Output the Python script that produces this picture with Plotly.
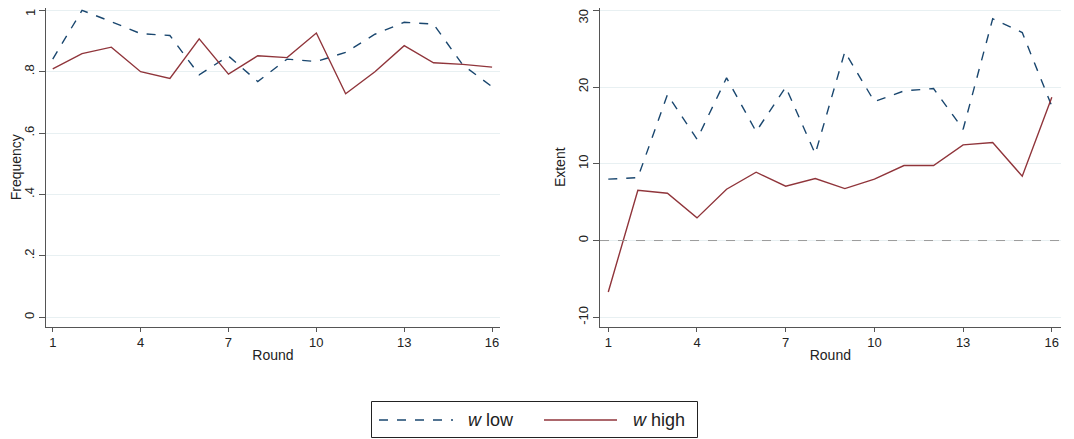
import plotly.graph_objects as go

rounds = list(range(1, 17))
freq_low = [0.841, 1.0, 0.963, 0.924, 0.918, 0.790, 0.851, 0.768, 0.841, 0.833, 0.863, 0.922, 0.961, 0.955, 0.822, 0.751]
freq_high = [0.809, 0.859, 0.880, 0.800, 0.778, 0.907, 0.792, 0.852, 0.846, 0.926, 0.728, 0.800, 0.885, 0.829, 0.824, 0.815]
ext_low = [8.0, 8.2, 19.0, 13.2, 21.2, 14.2, 20.0, 11.3, 24.6, 18.1, 19.5, 19.8, 14.5, 28.9, 27.1, 17.5]
ext_high = [-6.7, 6.56, 6.17, 2.95, 6.69, 8.9, 7.08, 8.08, 6.77, 7.99, 9.77, 9.77, 12.46, 12.77, 8.38, 18.67]
x_ticks = [1, 4, 7, 10, 13, 16]
freq_ticks = [0, 0.2, 0.4, 0.6, 0.8, 1]
freq_ticktext = ["0", ".2", ".4", ".6", ".8", "1"]
ext_ticks = [-10, 0, 10, 20, 30]
ext_ticktext = ["-10", "0", "10", "20", "30"]
series_names = ["<i>w</i> low", "<i>w</i> high"]

BLUE = "#1a476f"
RED = "#90353b"
FONT = "Liberation Sans, Arial, sans-serif"
OFF = 8  # page body margin
W, H = 1074 - OFF, 439 - OFF


def px(x):
    return (x - OFF) / W


def py(y):
    return 1 - (y - OFF) / H


fig = go.Figure()
fig.add_trace(go.Scatter(x=rounds, y=freq_low, mode="lines", name=series_names[0], showlegend=False,
                         line=dict(color=BLUE, width=1.4, dash="dash"), xaxis="x", yaxis="y"))
fig.add_trace(go.Scatter(x=rounds, y=freq_high, mode="lines", name=series_names[1], showlegend=False,
                         line=dict(color=RED, width=1.4), xaxis="x", yaxis="y"))
fig.add_trace(go.Scatter(x=rounds, y=ext_low, mode="lines", showlegend=False,
                         line=dict(color=BLUE, width=1.4, dash="dash"), xaxis="x2", yaxis="y2"))
fig.add_trace(go.Scatter(x=rounds, y=ext_high, mode="lines", showlegend=False,
                         line=dict(color=RED, width=1.4), xaxis="x2", yaxis="y2"))

axis_common = dict(showline=True, linecolor="#555555", linewidth=1, ticks="outside",
                   tickcolor="#555555", tickfont=dict(size=13, color="#222"),
                   zeroline=False, mirror=False, automargin=False)
ydom = [py(326.5), 1]

shapes = [
    dict(type="line", xref="x2 domain", yref="y2", x0=0, x1=1, y0=0, y1=0,
         line=dict(color="#9a9a9a", width=1, dash="dash"), layer="above"),
    # legend box
    dict(type="rect", xref="paper", yref="paper", x0=px(371.5), x1=px(697.5), y0=py(437.5), y1=py(401.5),
         line=dict(color="#222", width=1), fillcolor="white"),
    dict(type="line", xref="paper", yref="paper", x0=px(379), x1=px(453), y0=py(420), y1=py(420),
         line=dict(color=BLUE, width=1.6, dash="dash")),
    dict(type="line", xref="paper", yref="paper", x0=px(544), x1=px(617), y0=py(420), y1=py(420),
         line=dict(color=RED, width=1.6)),
]
annotations = [
    dict(text=series_names[0], xref="paper", yref="paper", x=px(466), y=py(420), xanchor="left",
         yanchor="middle", showarrow=False, font=dict(size=18, color="#222")),
    dict(text=series_names[1], xref="paper", yref="paper", x=px(631), y=py(420), xanchor="left",
         yanchor="middle", showarrow=False, font=dict(size=18, color="#222")),
    # top tick labels, nudged to stay inside the page
    dict(text=freq_ticktext[-1], xref="paper", yref="paper", x=px(30.5), y=py(12.5), xanchor="center",
         yanchor="middle", textangle=-90, showarrow=False, font=dict(size=13, color="#222")),
    dict(text=ext_ticktext[-1], xref="paper", yref="paper", x=px(583), y=py(16.5), xanchor="center",
         yanchor="middle", textangle=-90, showarrow=False, font=dict(size=13, color="#222")),
]

fig.update_layout(
    width=W, height=H,
    margin=dict(l=0, r=0, t=0, b=0),
    paper_bgcolor="white", plot_bgcolor="white",
    font=dict(family=FONT, color="#222"),
    showlegend=False,
    xaxis=dict(domain=[px(46), px(500)], range=[0.77, 16.27], tickvals=x_ticks, ticklen=4,
               showgrid=False, title=dict(text="Round", font=dict(size=14), standoff=1),
               anchor="y", **axis_common),
    yaxis=dict(domain=ydom, range=[-0.03, 1.0075], tickvals=freq_ticks,
               ticktext=freq_ticktext[:-1] + [""],
               tickangle=-90, ticklen=6, showgrid=True, gridcolor="#e8f0f2", gridwidth=1,
               title=dict(text="Frequency", font=dict(size=14), standoff=6),
               anchor="x", **axis_common),
    xaxis2=dict(domain=[px(600), px(1060.7)], range=[0.72, 16.3], tickvals=x_ticks, ticklen=4,
                showgrid=False, title=dict(text="Round", font=dict(size=14), standoff=1),
                anchor="y2", **axis_common),
    yaxis2=dict(domain=ydom, range=[-11.2, 30.3], tickvals=ext_ticks,
                ticktext=ext_ticktext[:-1] + [""],
                tickangle=-90, ticklen=6, showgrid=True, gridcolor="#e8f0f2", gridwidth=1,
                title=dict(text="Extent", font=dict(size=14), standoff=6),
                anchor="x2", **axis_common),
    shapes=shapes,
    annotations=annotations,
)

fig.write_html("out.html")
